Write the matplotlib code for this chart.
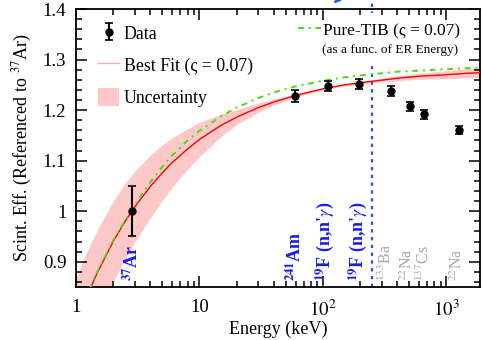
import matplotlib
matplotlib.use("Agg")
import matplotlib.pyplot as plt
from matplotlib.lines import Line2D
from matplotlib.patches import Patch, Rectangle
import numpy as np

plt.rcParams['font.family'] = ['Liberation Serif', 'DejaVu Serif']
plt.rcParams['mathtext.fontset'] = 'stix'

# Data points
data_E = [2.82, 59.5, 110, 197, 356, 511, 662, 1275]
data_y = [1.000, 1.228, 1.248, 1.252, 1.237, 1.208, 1.192, 1.160]
data_err = [0.050, 0.012, 0.010, 0.010, 0.010, 0.009, 0.009, 0.008]

# Best fit curve
fit_E = [1.0, 1.2, 1.5, 2.0, 2.5, 3.0, 4.0, 5.0, 6.0, 8.0, 10, 15, 20, 30, 40, 60, 100, 150, 250, 400, 600, 1000, 1500, 2000]
fit_y = [0.778, 0.827, 0.880, 0.940, 0.980, 1.009, 1.049, 1.076, 1.096, 1.123, 1.142, 1.170, 1.186, 1.205, 1.216, 1.229, 1.242, 1.250, 1.257, 1.263, 1.267, 1.270, 1.273, 1.274]
fit_hw = [0.090, 0.088, 0.085, 0.080, 0.075, 0.070, 0.062, 0.055, 0.049, 0.040, 0.034, 0.022, 0.015, 0.009, 0.006, 0.003, 0.002, 0.002, 0.003, 0.005, 0.006, 0.008, 0.009, 0.010]

# Pure-TIB curve
tib_E = [1.0, 1.2, 1.5, 2.0, 2.5, 3.0, 4.0, 5.0, 6.0, 8.0, 10, 15, 20, 30, 40, 60, 100, 150, 250, 400, 600, 1000, 1500, 2000]
tib_y = [0.780, 0.829, 0.882, 0.942, 0.982, 1.012, 1.058, 1.088, 1.110, 1.140, 1.159, 1.188, 1.205, 1.224, 1.235, 1.247, 1.258, 1.265, 1.271, 1.276, 1.278, 1.281, 1.283, 1.284]

# Source labels
blue_labels = [r"$^{\mathbf{37}}$Ar", r"$^{\mathbf{241}}$Am", r"$^{\mathbf{19}}$F (n,n'$\gamma$)", r"$^{\mathbf{19}}$F (n,n'$\gamma$)"]
blue_E = [2.85, 60, 103, 190]
grey_labels = [r"$^{133}$Ba", r"$^{22}$Na", r"$^{137}$Cs", r"$^{22}$Na"]
grey_E = [325, 485, 668, 1240]

threshold_E = 250

green = '#44dd11'
dashdot = (0, (3, 2.5, 1, 2.5))

fig = plt.figure(figsize=(4.82, 3.40), dpi=100)
ax = fig.add_axes([0.1577, 0.1559, 0.8382, 0.8176])
ax.set_axisbelow(False)

fit_E_a = np.array(fit_E); fit_y_a = np.array(fit_y); hw = np.array(fit_hw)
ax.fill_between(fit_E_a, fit_y_a - hw, fit_y_a + hw, color='#ffc8c8', lw=0, zorder=1)
ax.plot(fit_E, fit_y, color='red', lw=1.0, zorder=3)
ax.plot(tib_E, tib_y, color=green, lw=1.4, ls=dashdot, zorder=4)
eb = ax.errorbar(data_E, data_y, yerr=data_err, fmt='o', color='black', ms=5,
                 capsize=3, elinewidth=1.5, capthick=1.2, zorder=5)

ax.axvline(threshold_E, ymin=0, ymax=1.035, color='#2255ee', ls=(0, (1.5, 2)), lw=1.6,
           clip_on=False, zorder=1.2)
ax.annotate('', xy=(0.634, 1.012), xytext=(0.70, 1.12), xycoords='axes fraction',
            arrowprops=dict(arrowstyle='-|>', color='#2255ee', lw=1.2), annotation_clip=False)

# white background behind the Pure-TIB legend
ax.add_patch(Rectangle((0.535, 0.795), 0.445, 0.19, transform=ax.transAxes,
                       facecolor='white', edgecolor='none', zorder=2))

for lab, e in zip(blue_labels, blue_E):
    ax.text(e, 0.862, lab, rotation=90, color='#1a1aee', fontweight='bold', fontsize=13,
            ha='center', va='bottom')
for lab, e in zip(grey_labels, grey_E):
    ax.text(e, 0.862, lab, rotation=90, color='#a8a8a8', fontsize=11.5,
            ha='center', va='bottom')

ax.set_xscale('log')
ax.set_xlim(1, 1870)
ax.set_ylim(0.85, 1.4)
ax.set_xticks([1, 10, 100, 1000])
ax.set_xticklabels(['1', '10', r'$10^2$', r'$10^3$'])
ax.set_yticks([0.9, 1.0, 1.1, 1.2, 1.3, 1.4])
ax.set_yticklabels(['0.9', '1', '1.1', '1.2', '1.3', '1.4'])
ax.yaxis.set_minor_locator(matplotlib.ticker.MultipleLocator(0.02))
ax.tick_params(which='both', direction='in', top=True, right=True, labelsize=13.5, width=1.1)
ax.tick_params(which='major', length=8)
ax.tick_params(axis='x', which='major', pad=9)
ax.tick_params(axis='y', which='major', pad=7)
ax.tick_params(which='minor', length=4)
for s in ax.spines.values():
    s.set_linewidth(1.3)

ax.set_xlabel('Energy (keV)', fontsize=13, labelpad=1)
ax.set_ylabel('Scint. Eff. (Referenced to $^{37}$Ar)', fontsize=13, labelpad=6)

h_fit = Line2D([], [], color='#ffaaaa', lw=1.0)
h_unc = Patch(facecolor='#ffc8c8', edgecolor='none')
leg1 = ax.legend([eb, h_fit, h_unc], ['Data', 'Best Fit (ς = 0.07)', 'Uncertainty'],
                 loc='upper left', bbox_to_anchor=(0.0545, 0.946), frameon=False, fontsize=12.8,
                 handlelength=1.2, handleheight=1.2, handletextpad=0.25, labelspacing=0.72,
                 borderaxespad=0, borderpad=0)
leg1.set_zorder(6)
ax.add_artist(leg1)
h_tib = Line2D([], [], color=green, lw=1.4, ls=dashdot)
leg2 = ax.legend([h_tib], ['Pure-TIB (ς = 0.07)'], loc='upper left',
                 bbox_to_anchor=(0.5495, 0.958), frameon=False, fontsize=12.5,
                 handlelength=1.3, handleheight=1.2, handletextpad=0.15,
                 borderaxespad=0, borderpad=0)
leg2.set_zorder(6)
ax.text(0.609, 0.853, '(as a func. of ER Energy)', transform=ax.transAxes, fontsize=9.5,
        ha='left', va='center', zorder=6)

fig.savefig('out.png', dpi=100)
